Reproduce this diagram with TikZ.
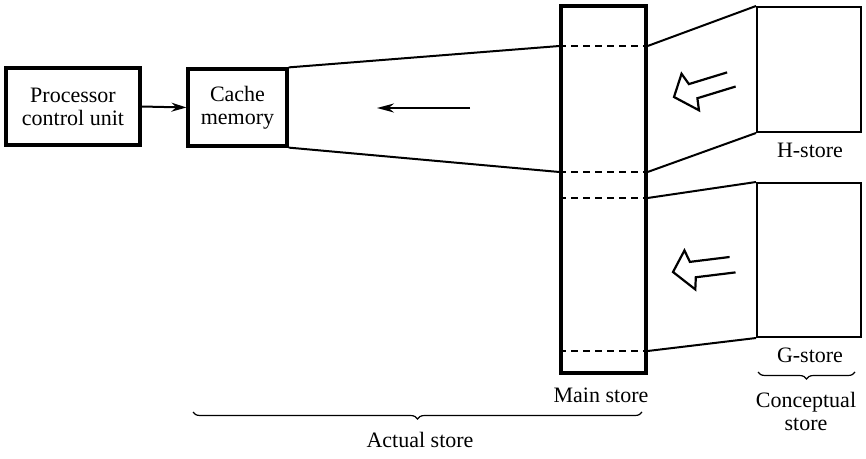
\documentclass[tikz,border=0pt]{standalone}
\usepackage{fontspec}
\setmainfont{Liberation Serif}
\usetikzlibrary{arrows.meta,decorations.pathreplacing}

\tikzset{
    unit/.style={draw,line width=3.2pt,inner sep=0pt,align=center,
        font=\fontsize{22}{23}\selectfont},
    store/.style={draw,line width=2pt,inner sep=0pt},
    label/.style={font=\fontsize{22}{23}\selectfont,align=center},
    link/.style={line width=2pt},
    level/.style={dashed,dash pattern=on 7pt off 5pt,line width=1.6pt},
    flow/.style={line width=2.2pt,line join=miter},
    curly/.style={line width=1.2pt,decorate,decoration={brace,amplitude=7pt}},
}
\newcommand{\hollow}[3] {
    \draw[flow,shift={(#1,#2)},rotate=#3]
        (58,-8) -- (18,-8) -- (14,-20) -- (0,0) -- (20,20) -- (22,8) -- (62,8);
}

\begin{document}
\begin{tikzpicture}[x=1pt,y=-1pt]
    \useasboundingbox (0,0) rectangle (866,458);
    % boxes
    \node[unit,minimum width=134pt,minimum height=77pt] (proc) at (73,106.5)
        {Processor\\control unit};
    \node[unit,minimum width=99pt,minimum height=77pt] (cache) at (237.5,107.5)
        {Cache\\memory};
    \node[draw,line width=3.2pt,inner sep=0pt,minimum width=85pt,minimum height=367pt]
        (main) at (603.5,189.5) {};
    \node[store,minimum width=104pt,minimum height=125pt] (hstore) at (809,69.5) {};
    \node[store,minimum width=104pt,minimum height=154pt] (gstore) at (809,260) {};
    % levels in main store
    \foreach \y/\n in {46/a,172/b,198/c,351/d} {
        \coordinate (l\n) at (main.west |- 0,\y);
        \coordinate (r\n) at (main.east |- 0,\y);
        \draw[level] (l\n) -- (r\n);
    }
    \draw[link] (cache.north east) -- (la);
    \draw[link] (cache.south east) -- (lb);
    \draw[link] (ra) -- (hstore.north west);
    \draw[link] (rb) -- (hstore.south west);
    \draw[link] (rc) -- (gstore.north west);
    \draw[link] (rd) -- (gstore.south west);
    % arrows
    \draw[link,-{Stealth[length=15pt,width=9pt]}] (proc.east) -- (cache.west);
    \coordinate (tail) at (470,108);
    \coordinate (head) at (377,108);
    \draw[link,-{Stealth[length=17pt,width=9pt]}] (tail) -- (head);
    \hollow{674}{97}{17}
    \hollow{673}{272}{7}
    % labels
    \node[label,anchor=base] (mainlbl) at (601,402) {Main store};
    \node[label,anchor=base] (hlbl) at (810,157) {H-store};
    \node[label,anchor=base] (glbl) at (810,362) {G-store};
    \draw[curly] (855,372) -- (758,372);
    \node[label] (conlbl) at (806,411) {Conceptual\\store};
    \draw[curly] (642,412) -- (193,412);
    \node[label,anchor=base] (actlbl) at (420,447) {Actual store};
\end{tikzpicture}
\end{document}
